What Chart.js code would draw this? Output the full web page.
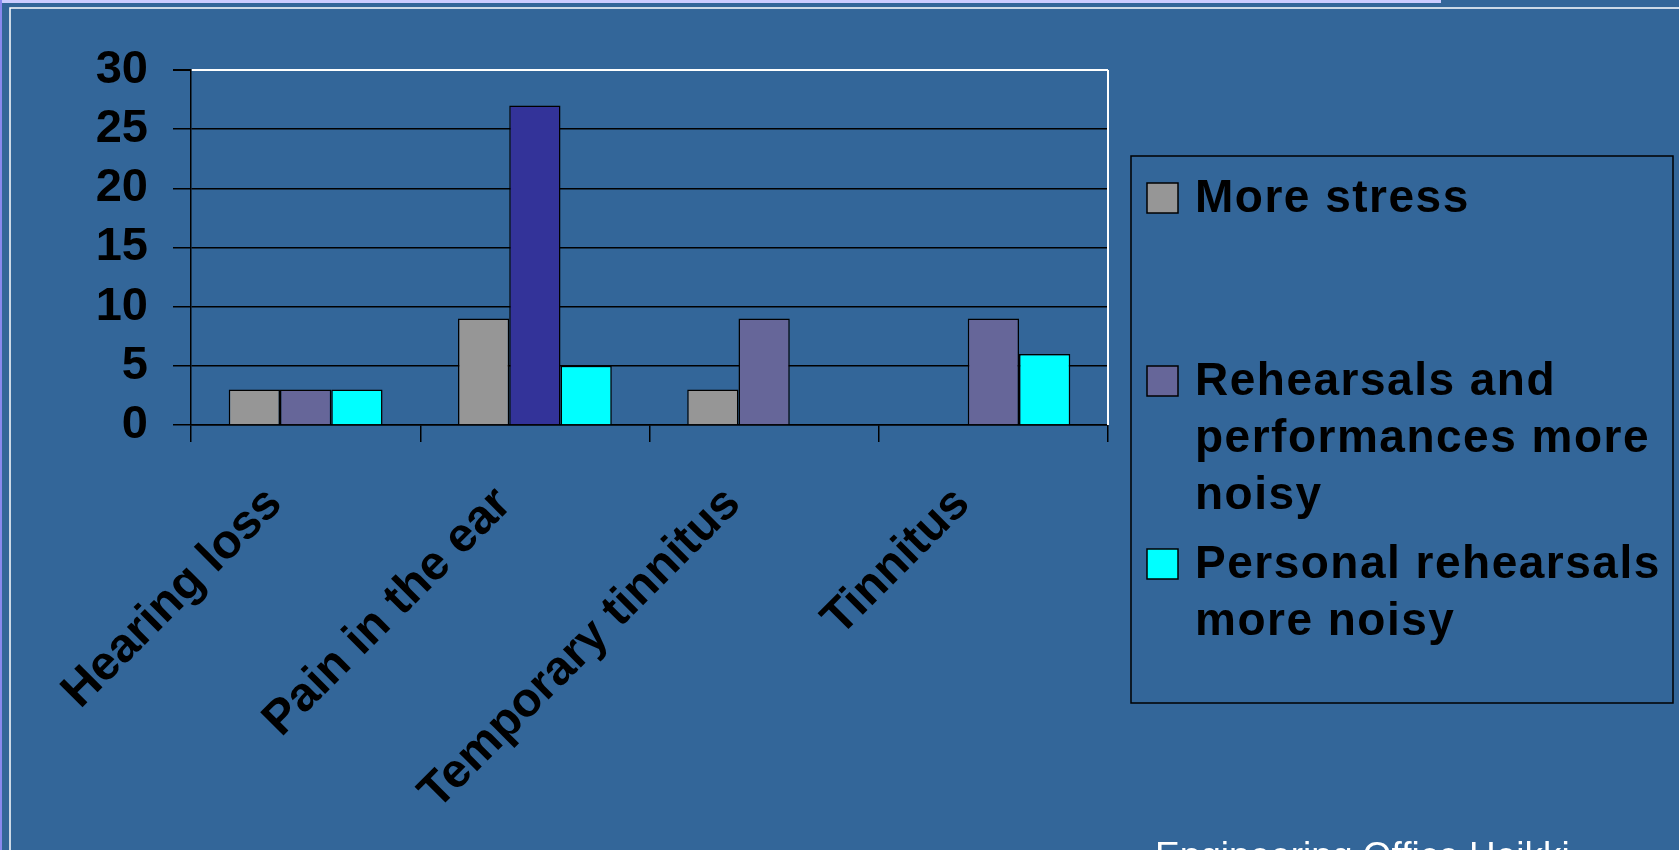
<!DOCTYPE html>
<html>
<head>
<meta charset="utf-8">
<script src="https://cdn.jsdelivr.net/npm/chart.js@4.4.0/dist/chart.umd.min.js"></script>
<style>
html, body { margin: 0; padding: 0; background: #336699; overflow: hidden; }
#wrap { position: relative; width: 1679px; height: 850px; }
</style>
</head>
<body>
<div id="wrap"><canvas id="myChart"></canvas></div>
<script>
// categories and values
var categories = ['Hearing loss', 'Pain in the ear', 'Temporary tinnitus', 'Tinnitus'];
var seriesNames = [
	['More stress'],
	['Rehearsals and', 'performances more', 'noisy'],
	['Personal rehearsals', 'more noisy']
];
var moreStress = [3, 9, 3, 0];
var rehearsalsNoisy = [3, 27, 9, 9];
var personalNoisy = [3, 5, 0, 6];
var yTicks = [0, 5, 10, 15, 20, 25, 30];
var footNote = 'Engineering Office Heikki';

var fontName = '"Liberation Sans", Arial, sans-serif';

// slide background, borders, legend box and footer
var slide = {
	id: 'slide',
	beforeDraw: function(chart){
		var c = chart.ctx;
		c.save();
		c.fillStyle = '#336699';
		c.fillRect(0, 0, chart.width, chart.height);
		c.fillStyle = '#ccccff';
		c.fillRect(0, 0, 1441, 3);
		c.fillStyle = '#8888ee';
		c.fillRect(0, 0, 2, chart.height);
		c.strokeStyle = '#ffffff';
		c.lineWidth = 1.5;
		c.beginPath();
		c.moveTo(10, chart.height);
		c.lineTo(10, 8);
		c.lineTo(chart.width, 8);
		c.stroke();
		c.restore();
	},
	afterDraw: function(chart){
		var c = chart.ctx;
		var area = chart.chartArea;
		c.save();
		// white right edge of the plot
		c.strokeStyle = '#ffffff';
		c.lineWidth = 2;
		c.beginPath();
		c.moveTo(area.right, area.top);
		c.lineTo(area.right, area.bottom);
		c.stroke();

		// legend
		c.strokeStyle = '#000000';
		c.lineWidth = 1.5;
		c.strokeRect(1131, 156, 542, 547);
		c.font = 'bold 46px ' + fontName;
		c.letterSpacing = '1.5px';
		c.textBaseline = 'middle';
		chart.data.datasets.forEach(function(ds, i){
			var y = 199 + i * 183;
			var col = Array.isArray(ds.backgroundColor) ? ds.backgroundColor[0] : ds.backgroundColor;
			c.fillStyle = col;
			c.fillRect(1147, y - 16, 31, 30);
			c.strokeRect(1147, y - 16, 31, 30);
			c.fillStyle = '#000000';
			seriesNames[i].forEach(function(line, j){
				c.fillText(line, 1195, y + j * 57);
			});
		});

		// footer
		c.letterSpacing = '0px';
		c.font = '37px ' + fontName;
		c.fillStyle = '#ffffff';
		c.textBaseline = 'alphabetic';
		c.fillText(footNote, 1155, 868);
		c.restore();
	}
};

var ctx = document.getElementById('myChart').getContext('2d');
var chart = new Chart(ctx, {
	type: 'bar',
	data: {
		labels: categories,
		datasets: [{
			label: seriesNames[0].join(' '),
			data: moreStress,
			backgroundColor: '#969696',
			borderColor: '#000000',
			borderWidth: 1.5
		},
		{
			label: seriesNames[1].join(' '),
			data: rehearsalsNoisy,
			backgroundColor: ['#666699', '#333399', '#666699', '#666699'],
			borderColor: '#000000',
			borderWidth: 1.5
		},
		{
			label: seriesNames[2].join(' '),
			data: personalNoisy,
			backgroundColor: '#00ffff',
			borderColor: '#000000',
			borderWidth: 1.5
		}]
	},
	options: {
		responsive: true,
		maintainAspectRatio: false,
		animation: false,
		datasets: {
			bar: { categoryPercentage: 0.671, barPercentage: 1 }
		},
		layout: {
			padding: { left: 0, top: 70, right: 571, bottom: 0 }
		},
		plugins: {
			legend: { display: false },
			tooltip: { enabled: false }
		},
		scales: {
			x: {
				grid: {
					drawOnChartArea: false,
					drawTicks: true,
					tickLength: 17,
					tickColor: '#000000',
					lineWidth: 1.5
				},
				border: { color: '#000000', width: 1.5 },
				ticks: {
					minRotation: 45,
					maxRotation: 45,
					autoSkip: false,
					padding: 34,
					labelOffset: -31,
					color: '#000000',
					font: { family: fontName, size: 48, weight: 'bold' }
				},
				afterFit: function(scale){ scale.height = 425; }
			},
			y: {
				min: 0,
				max: 30,
				afterBuildTicks: function(scale){
					scale.ticks = yTicks.map(function(v){ return { value: v }; });
				},
				grid: {
					color: function(c){ return c.tick && c.tick.value === 30 ? '#ffffff' : '#000000'; },
					lineWidth: function(c){ return c.tick && c.tick.value === 30 ? 2 : 1.5; },
					tickColor: '#000000',
					tickLength: 18
				},
				border: { color: '#000000', width: 1.5 },
				ticks: {
					autoSkip: false,
					padding: 25,
					color: '#000000',
					font: { family: fontName, size: 47, weight: 'bold' }
				},
				afterFit: function(scale){ scale.width = 191; }
			}
		}
	},
	plugins: [slide]
});
</script>
</body>
</html>
